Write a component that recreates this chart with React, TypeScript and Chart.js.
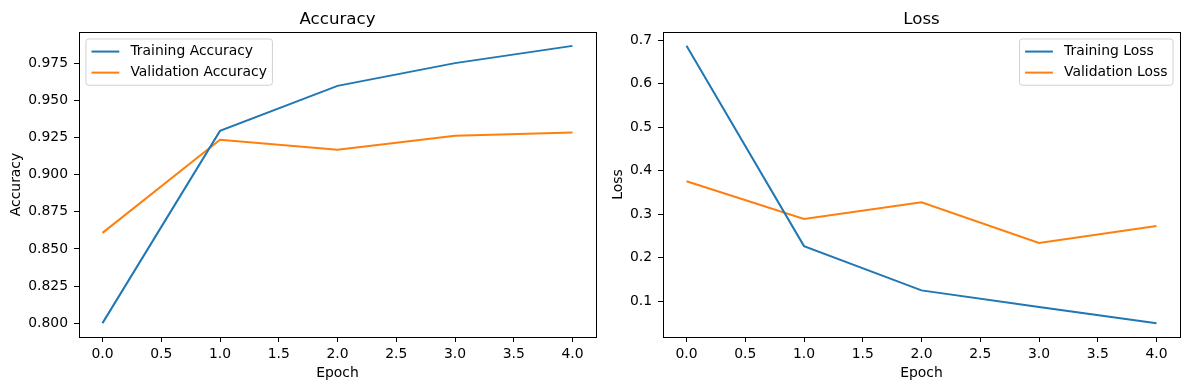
import React, { useEffect, useRef } from 'react';
import { Chart, registerables } from 'chart.js';

Chart.register(...registerables);

const epochs = [0, 1, 2, 3, 4];
const trainAcc = [0.8001, 0.9294, 0.9597, 0.975, 0.9866];
const valAcc = [0.8608, 0.9234, 0.9167, 0.9261, 0.9283];
const trainLoss = [0.6869, 0.2271, 0.1253, 0.0869, 0.0501];
const valLoss = [0.3759, 0.2893, 0.3276, 0.234, 0.2731];
const epochTicks = [0, 0.5, 1, 1.5, 2, 2.5, 3, 3.5, 4];
const accTicks = [0.8, 0.825, 0.85, 0.875, 0.9, 0.925, 0.95, 0.975];
const lossTicks = [0.1, 0.2, 0.3, 0.4, 0.5, 0.6, 0.7];

const BLUE = '#1f77b4';
const ORANGE = '#ff7f0e';
const FONT = '"DejaVu Sans", sans-serif';
const FS = 13.9;

Chart.defaults.font.family = FONT;
Chart.defaults.color = '#000';

const framePlugin = {
  id: 'mplFrame',
  afterDatasetsDraw(chart: any) {
    const { ctx, chartArea: a } = chart;
    ctx.save();
    ctx.strokeStyle = '#000';
    ctx.lineWidth = 1;
    ctx.strokeRect(Math.round(a.left) + 0.5, Math.round(a.top) + 0.5, Math.round(a.right - a.left), Math.round(a.bottom - a.top));
    ctx.restore();
  },
};

const legendPlugin = {
  id: 'mplLegend',
  afterDraw(chart: any, _args: any, opts: any) {
    const { ctx, chartArea: a } = chart;
    ctx.save();
    ctx.font = `${FS}px ${FONT}`;
    const items = chart.data.datasets.map((d: any) => ({ label: d.label, color: d.borderColor }));
    const textW = Math.max(...items.map((i: any) => ctx.measureText(i.label).width));
    const pad = 0.4 * FS, hl = 2 * FS, htp = 0.8 * FS, ls = 0.5 * FS, axpad = 0.5 * FS;
    const rowH = 14.1;
    const w = pad + hl + htp + textW + pad;
    const h = pad * 2 + rowH * items.length + ls * (items.length - 1);
    const x0 = opts.side === 'left' ? a.left + axpad : a.right - axpad - w;
    const y0 = a.top + axpad;
    const r = 2.8;
    ctx.beginPath();
    ctx.moveTo(x0 + r, y0);
    ctx.lineTo(x0 + w - r, y0);
    ctx.quadraticCurveTo(x0 + w, y0, x0 + w, y0 + r);
    ctx.lineTo(x0 + w, y0 + h - r);
    ctx.quadraticCurveTo(x0 + w, y0 + h, x0 + w - r, y0 + h);
    ctx.lineTo(x0 + r, y0 + h);
    ctx.quadraticCurveTo(x0, y0 + h, x0, y0 + h - r);
    ctx.lineTo(x0, y0 + r);
    ctx.quadraticCurveTo(x0, y0, x0 + r, y0);
    ctx.closePath();
    ctx.fillStyle = 'rgba(255,255,255,0.8)';
    ctx.fill();
    ctx.strokeStyle = 'rgba(204,204,204,0.9)';
    ctx.lineWidth = 1;
    ctx.stroke();
    items.forEach((it: any, i: number) => {
      const cy = y0 + pad + rowH / 2 + i * (rowH + ls);
      ctx.beginPath();
      ctx.moveTo(x0 + pad, cy);
      ctx.lineTo(x0 + pad + hl, cy);
      ctx.strokeStyle = it.color;
      ctx.lineWidth = 2;
      ctx.stroke();
      ctx.fillStyle = '#000';
      ctx.textBaseline = 'middle';
      ctx.textAlign = 'left';
      ctx.fillText(it.label, x0 + pad + hl + htp, cy);
    });
    ctx.restore();
  },
};

function range(vals: number[]) {
  const mn = Math.min(...vals), mx = Math.max(...vals);
  const m = (mx - mn) * 0.05;
  return { min: mn - m, max: mx + m };
}

function buildConfig(p: {
  title: string; yLabel: string; series: { label: string; data: number[]; color: string }[];
  yTicks: number[]; decimals: number; yWidth: number; yTitlePad: number; padRight: number; side: string;
}): any {
  const all = p.series.flatMap(s => s.data);
  const yr = range(all);
  const xr = range(epochs);
  return {
    type: 'line',
    data: {
      datasets: p.series.map(s => ({
        label: s.label,
        data: epochs.map((e, i) => ({ x: e, y: s.data[i] })),
        borderColor: s.color,
        backgroundColor: s.color,
        borderWidth: 2,
        pointRadius: 0,
        tension: 0,
        fill: false,
      })),
    },
    options: {
      animation: false,
      responsive: false,
      layout: { padding: { left: 0, right: p.padRight, top: 0, bottom: 0 } },
      plugins: {
        legend: { display: false },
        tooltip: { enabled: false },
        title: {
          display: true, text: p.title, fullSize: false, color: '#000',
          font: { size: 16.67, weight: 'normal', family: FONT },
          padding: { top: 10, bottom: 2 },
        },
        mplLegend: { side: p.side },
      },
      scales: {
        x: {
          type: 'linear', min: xr.min, max: xr.max,
          afterBuildTicks: (s: any) => { s.ticks = epochTicks.map(v => ({ value: v })); },
          afterFit: (s: any) => { s.height = 53; },
          ticks: { autoSkip: false, maxRotation: 0, padding: 4, color: '#000', font: { size: FS }, callback: (v: any) => Number(v).toFixed(1) },
          grid: { display: true, drawOnChartArea: false, drawTicks: true, tickLength: 5, color: '#000', lineWidth: 1 },
          border: { display: false },
          title: { display: true, text: 'Epoch', color: '#000', font: { size: FS }, padding: { top: 0, bottom: 8.5 } },
        },
        y: {
          type: 'linear', min: yr.min, max: yr.max,
          afterBuildTicks: (s: any) => { s.ticks = p.yTicks.map(v => ({ value: v })); },
          afterFit: (s: any) => { s.width = p.yWidth; },
          ticks: { autoSkip: false, padding: 6, color: '#000', font: { size: FS }, callback: (v: any) => Number(v).toFixed(p.decimals) },
          grid: { display: true, drawOnChartArea: false, drawTicks: true, tickLength: 5, color: '#000', lineWidth: 1 },
          border: { display: false },
          title: { display: true, text: p.yLabel, color: '#000', font: { size: FS }, padding: { top: p.yTitlePad, bottom: 0 } },
        },
      },
    },
    plugins: [framePlugin, legendPlugin],
  };
}

export default function App() {
  const leftRef = useRef<HTMLCanvasElement>(null);
  const rightRef = useRef<HTMLCanvasElement>(null);

  useEffect(() => {
    const c1 = new Chart(leftRef.current!, buildConfig({
      title: 'Accuracy', yLabel: 'Accuracy',
      series: [
        { label: 'Training Accuracy', data: trainAcc, color: BLUE },
        { label: 'Validation Accuracy', data: valAcc, color: ORANGE },
      ],
      yTicks: accTicks, decimals: 3, yWidth: 79, yTitlePad: 7.7, padRight: 4, side: 'left',
    }));
    const c2 = new Chart(rightRef.current!, buildConfig({
      title: 'Loss', yLabel: 'Loss',
      series: [
        { label: 'Training Loss', data: trainLoss, color: BLUE },
        { label: 'Validation Loss', data: valLoss, color: ORANGE },
      ],
      yTicks: lossTicks, decimals: 1, yWidth: 63, yTitlePad: 9.7, padRight: 9, side: 'right',
    }));
    return () => { c1.destroy(); c2.destroy(); };
  }, []);

  return (
    <div style={{ position: 'fixed', left: 0, top: 0, width: 1189, height: 390, background: '#fff' }}>
      <canvas ref={leftRef} width={600} height={390} style={{ position: 'absolute', left: 0, top: 0, display: 'block' }} />
      <canvas ref={rightRef} width={589} height={390} style={{ position: 'absolute', left: 600, top: 0, display: 'block' }} />
    </div>
  );
}
